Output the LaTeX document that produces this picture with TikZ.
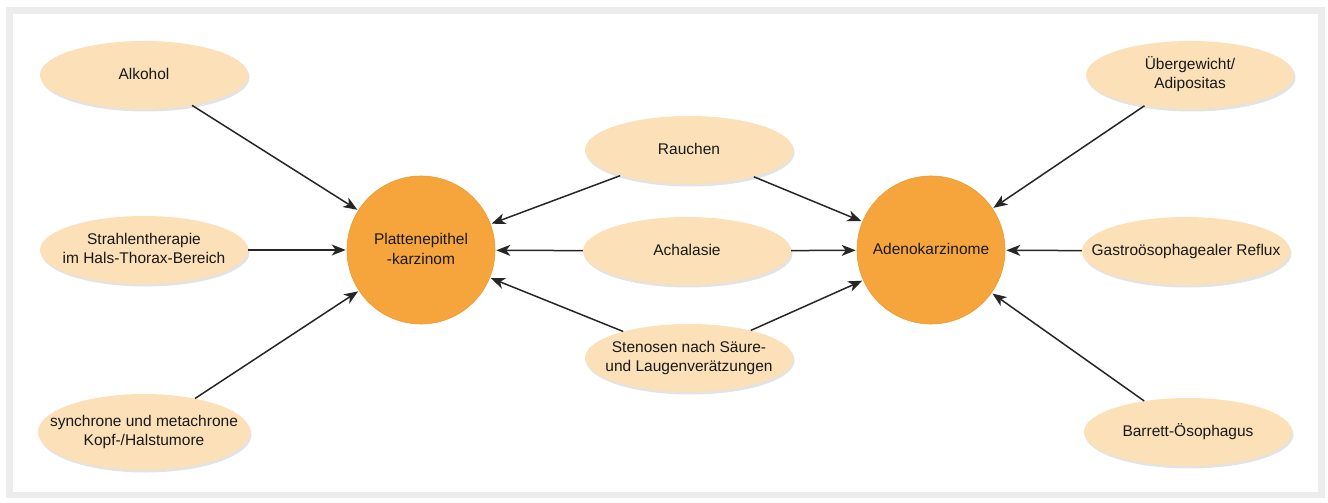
\documentclass[tikz,border=0pt]{standalone}
\usepackage{fontspec}
\setmainfont{Liberation Sans}
\usetikzlibrary{shapes.geometric,arrows.meta,shadows}
\definecolor{peach}{HTML}{FBE0B8}
\definecolor{orangec}{HTML}{F6A53C}
\definecolor{orangeb}{HTML}{EE9A2E}
\definecolor{framegray}{HTML}{ECECEC}
\definecolor{arrowc}{HTML}{262626}
\newcommand{\ztab}[1]{\makebox[0pt][c]{\smash{\raisebox{-3.8pt}{\begin{tabular}[c]{@{}c@{}}#1\end{tabular}}}}}
\begin{document}
\begin{tikzpicture}[x=1pt,y=-1pt,
  factor/.style={ellipse, fill=peach, draw=none, minimum width=208pt, minimum height=68pt,
    inner sep=0pt, font=\fontsize{15.5}{19.5}\selectfont, text=black!90,
    drop shadow={opacity=0.22, shadow xshift=1.5pt, shadow yshift=-2.5pt}},
  cancer/.style={circle, fill=orangec, draw=orangeb, line width=0.6pt, minimum size=148pt,
    inner sep=0pt, font=\fontsize{15.5}{20.5}\selectfont, text=black!90},
  link/.style={draw=arrowc, line width=1.5pt, -{Stealth[length=14pt,width=11pt,inset=4pt]}, shorten >=1pt}
]
\useasboundingbox (0,0) rectangle (1328,503);
\fill[framegray] (6,7) rectangle (1325,498);
\fill[white] (13,14) rectangle (1318,492);

\node[cancer] (pe) at (421,250) {\ztab{Plattenepithel\\-karzinom}};
\node[cancer] (ad) at (931,250) {\ztab{Adenokarzinome}};

\node[factor] (alk) at (144,75) {\ztab{Alkohol}};
\node[factor] (str) at (144,250) {\ztab{Strahlentherapie\\im Hals-Thorax-Bereich}};
\node[factor, minimum width=212pt, minimum height=76pt] (syn) at (144,432) {\ztab{synchrone und metachrone\\Kopf-/Halstumore}};

\node[factor] (rau) at (689,150) {\ztab{Rauchen}};
\node[factor] (ach) at (687,251) {\ztab{Achalasie}};
\node[factor] (ste) at (689,358) {\ztab{Stenosen nach Säure-\\und Laugenverätzungen}};

\node[factor] (ueb) at (1190,75) {\ztab{Übergewicht/\\Adipositas}};
\node[factor] (gas) at (1186,251) {\ztab{Gastroösophagealer Reflux}};
\node[factor] (bar) at (1188,432) {\ztab{Barrett-Ösophagus}};

\draw[link] (alk) -- (pe);
\draw[link] (str) -- (pe);
\draw[link] (syn) -- (pe);
\draw[link] (rau) -- (pe);
\draw[link] (ach) -- (pe);
\draw[link] (ste) -- (pe);
\draw[link] (rau) -- (ad);
\draw[link] (ach) -- (ad);
\draw[link] (ste) -- (ad);
\draw[link] (ueb) -- (ad);
\draw[link] (gas) -- (ad);
\draw[link] (bar) -- (ad);
\end{tikzpicture}
\end{document}
